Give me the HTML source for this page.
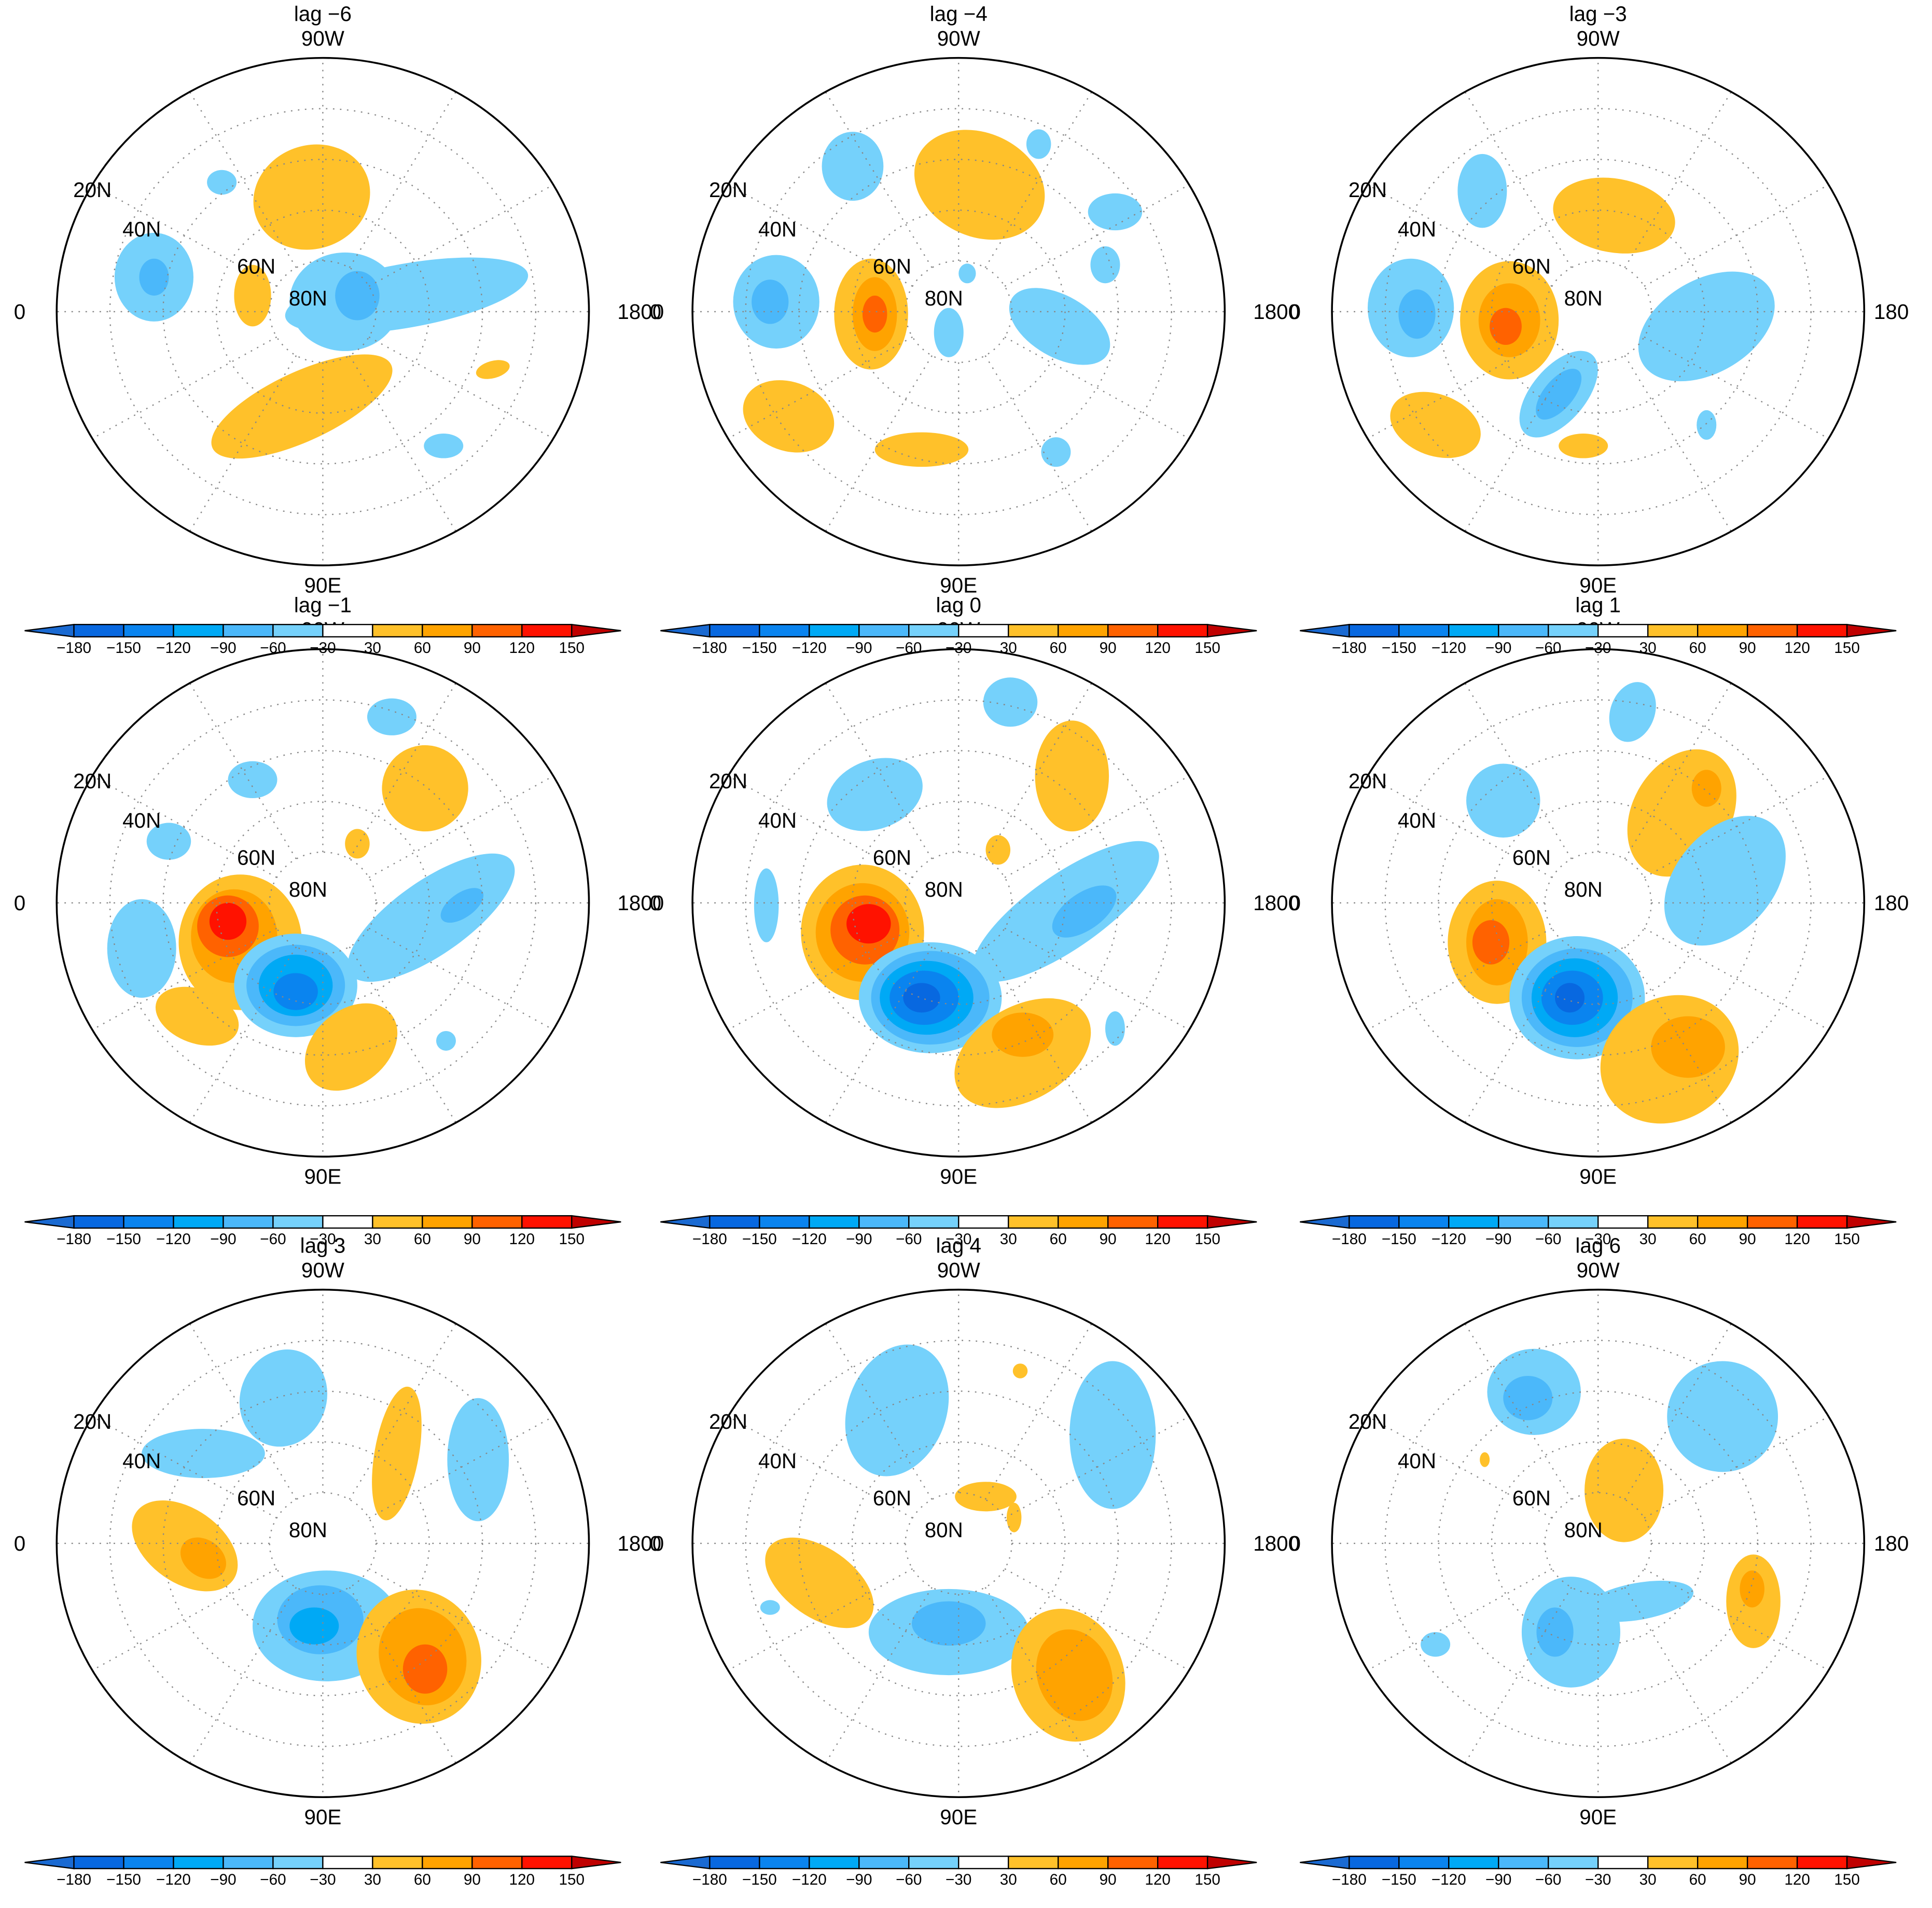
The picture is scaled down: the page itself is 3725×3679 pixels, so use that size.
<!DOCTYPE html>
<html><head><meta charset="utf-8">
<style>html,body{margin:0;padding:0;background:#fff}svg{display:block}text{font-family:"Liberation Sans",sans-serif}</style>
</head><body>
<svg id="fig" xmlns="http://www.w3.org/2000/svg" width="3725" height="3679" viewBox="0 0 1568 1549" preserveAspectRatio="none"></svg>
<script>
// contour levels and colours
const levelEdges=[-180,-150,-120,-90,-60,-30,30,60,90,120,150];
const levelColors=["#1a6ad2","#0868e0","#0a84ef","#00a9f5","#4bb8fa","#75d1fb","#ffffff","#ffc12a","#ffa300","#ff6200","#ff1200","#c00000"];
const panelTitles=["lag −6","lag −4","lag −3","lag −1","lag 0","lag 1","lag 3","lag 4","lag 6"];
const panelCentersX=[262,778,1297];
const panelCentersY=[253,733,1253];
const cbarY=[507,987,1507];
// anomaly blobs per panel: [x, y, rx, ry, rotation, value]
const blobs0=[[253,160,48,42,-20,40],[180,148,12,10,0,-40],[125,225,32,36,0,-40],[125,225,12,15,0,-70],[205,240,15,25,0,40],[330,240,100,26,-10,-40],[280,245,45,40,0,-40],[290,240,18,20,0,-70],[400,300,14,7,-15,40],[245,330,80,28,-25,40],[360,362,16,10,0,-40]];
const blobs1=[[692,135,25,28,0,-40],[795,150,55,42,25,40],[843,117,10,12,0,-40],[905,172,22,15,0,-40],[897,215,12,15,0,-40],[630,245,35,38,0,-40],[625,245,15,18,0,-70],[707,255,30,45,0,40],[710,255,18,30,0,70],[710,255,10,15,0,100],[770,270,12,20,0,-40],[785,222,7,8,0,-40],[860,265,45,25,30,-40],[640,338,38,28,20,40],[748,365,38,14,0,40],[857,367,12,12,0,-40]];
const blobs2=[[1203,155,20,30,0,-40],[1310,175,50,30,10,40],[1145,250,35,40,0,-40],[1150,255,15,20,0,-70],[1225,260,40,48,0,40],[1225,260,25,30,0,70],[1222,265,13,15,0,100],[1265,320,22,42,40,-40],[1265,320,12,25,40,-70],[1385,265,60,38,-30,-40],[1165,345,38,25,20,40],[1285,362,20,10,0,40],[1385,345,8,12,0,-40]];
const blobs3=[[318,582,20,15,0,-40],[205,633,20,15,0,-40],[137,683,18,15,0,-40],[345,640,35,35,-30,40],[290,685,10,12,0,40],[115,770,28,40,0,-40],[195,765,50,55,0,40],[190,760,35,38,0,70],[185,752,25,25,0,100],[185,748,15,15,0,130],[160,825,35,22,20,40],[350,745,80,30,-35,-40],[375,735,20,10,-35,-70],[240,800,50,42,0,-40],[240,800,40,33,0,-70],[240,800,30,25,0,-100],[240,805,18,15,0,-130],[285,850,42,30,-40,40],[362,845,8,8,0,-40]];
const blobs4=[[820,570,22,20,0,-40],[710,645,40,28,-20,-40],[870,630,30,45,0,40],[810,690,10,12,0,40],[622,735,10,30,0,-40],[865,740,90,30,-35,-40],[880,740,30,15,-35,-70],[700,757,50,55,0,40],[700,757,38,40,0,70],[702,755,28,28,0,100],[705,750,18,16,0,130],[755,810,58,45,0,-40],[755,810,48,38,0,-70],[752,810,38,30,0,-100],[750,810,28,22,0,-130],[748,810,15,12,0,-160],[830,855,60,38,-30,40],[830,840,25,18,0,70],[905,835,8,14,0,-40]];
const blobs5=[[1325,578,18,25,20,-40],[1220,650,30,30,0,-40],[1365,660,40,55,30,40],[1385,640,12,15,0,70],[1400,715,60,40,-50,-40],[1215,765,40,50,0,40],[1215,765,25,35,0,70],[1210,765,15,18,0,100],[1280,810,55,50,0,-40],[1280,810,45,40,0,-70],[1278,810,35,32,0,-100],[1276,810,25,22,0,-130],[1274,810,12,12,0,-160],[1355,860,58,50,-30,40],[1370,850,30,25,0,70]];
const blobs6=[[230,1135,35,40,20,-40],[165,1180,50,20,0,-40],[322,1180,18,55,10,40],[388,1185,25,50,0,-40],[150,1255,48,30,35,40],[165,1265,20,15,35,70],[265,1320,60,45,0,-40],[260,1315,35,28,0,-70],[255,1320,20,15,0,-100],[340,1345,50,55,-20,40],[343,1345,35,40,-20,70],[345,1355,18,20,0,100]];
const blobs7=[[728,1145,40,55,20,-40],[828,1113,6,6,0,40],[903,1165,35,60,0,-40],[800,1215,25,12,0,40],[823,1232,6,12,0,40],[665,1285,50,28,35,40],[770,1325,65,35,0,-40],[770,1318,30,18,0,-70],[867,1360,45,55,-20,40],[872,1360,30,38,-20,70],[625,1305,8,6,0,-40]];
const blobs8=[[1245,1130,38,35,0,-40],[1240,1135,20,18,0,-70],[1398,1150,45,45,0,-40],[1318,1210,32,42,0,40],[1205,1185,4,6,0,40],[1275,1325,40,45,0,-40],[1262,1325,15,20,0,-70],[1330,1300,45,15,-10,-40],[1165,1335,12,10,0,-40],[1423,1300,22,38,0,40],[1422,1290,10,15,0,70]];
const allBlobs=[blobs0,blobs1,blobs2,blobs3,blobs4,blobs5,blobs6,blobs7,blobs8];
const cbarTickLabels=["−180","−150","−120","−90","−60","−30","30","60","90","120","150"];

const NS="http://www.w3.org/2000/svg";
const svg=document.getElementById("fig");
function mk(tag,attrs,parent){const e=document.createElementNS(NS,tag);for(const k in attrs)e.setAttribute(k,attrs[k]);(parent||svg).appendChild(e);return e;}
function colorFor(v){let i=0;while(i<levelEdges.length&&v>=levelEdges[i])i++;return levelColors[i];}
const RX=216,RY=206;
const defs=mk("defs",{});
for(let p=0;p<9;p++){
  const cx=panelCentersX[p%3],cy=panelCentersY[Math.floor(p/3)];
  const clip=mk("clipPath",{id:"clip"+p},defs);
  mk("ellipse",{cx:cx,cy:cy,rx:RX,ry:RY},clip);
  const g=mk("g",{"clip-path":"url(#clip"+p+")"});
  
  
  allBlobs[p].forEach(b=>{
    const e=mk("ellipse",{cx:b[0],cy:b[1],rx:b[2],ry:b[3],transform:"rotate("+b[4]+" "+b[0]+" "+b[1]+")",fill:colorFor(b[5])},g);
    
    
  });
  const grid=mk("g",{stroke:"#888","stroke-width":1,"stroke-dasharray":"1.2 4.5",fill:"none"},g);
  
  
  [0.2,0.4,0.6,0.8].forEach(f=>mk("ellipse",{cx:cx,cy:cy,rx:RX*f,ry:RY*f},grid));
  for(let a=0;a<360;a+=30){const r=a*Math.PI/180;mk("line",{x1:cx+RX*0.2*Math.cos(r),y1:cy+RY*0.2*Math.sin(r),x2:cx+RX*Math.cos(r),y2:cy+RY*Math.sin(r)},grid);}
  const bd=mk("ellipse",{cx:cx,cy:cy,rx:RX,ry:RY,fill:"none",stroke:"#000","stroke-width":1.5});
  
  
  const labels=[[panelTitles[p],cx,cy-236,"middle"],["90W",cx,cy-216,"middle"],["90E",cx,cy+228,"middle"],["0",cx-246,cy+6,"middle"],[p%3==2?"180":"1800",cx+(p%3==2?238:258),cy+6,"middle"],["20N",cx-187,cy-93,"middle"],["40N",cx-147,cy-61,"middle"],["60N",cx-54,cy-31,"middle"],["80N",cx-12,cy-5,"middle"]];
  labels.forEach((l,i)=>{const t=mk("text",{x:l[1],y:l[2],"text-anchor":l[3],"font-size":17,fill:"#000"});t.textContent=l[0];
    
    });
}
for(let p=0;p<9;p++){
  const x0=panelCentersX[p%3]-242,y=cbarY[Math.floor(p/3)],h=10,w=40.4;
  const cb=mk("g",{});
  
  
  mk("polygon",{points:(x0)+","+(y+h/2)+" "+(x0+40)+","+y+" "+(x0+40)+","+(y+h),fill:levelColors[0],stroke:"#000","stroke-width":1},cb);
  for(let i=0;i<10;i++)mk("rect",{x:x0+40+i*w,y:y,width:w,height:h,fill:levelColors[i+1],stroke:"#000","stroke-width":1},cb);
  const xe=x0+40+10*w;
  mk("polygon",{points:xe+","+y+" "+xe+","+(y+h)+" "+(xe+40)+","+(y+h/2),fill:levelColors[11],stroke:"#000","stroke-width":1},cb);
  cbarTickLabels.forEach((s,i)=>{const t=mk("text",{x:x0+40+i*w,y:y+h+13,"text-anchor":"middle","font-size":12.5,fill:"#000"},cb);t.textContent=s;
    
    });
}
</script>
</body></html>
